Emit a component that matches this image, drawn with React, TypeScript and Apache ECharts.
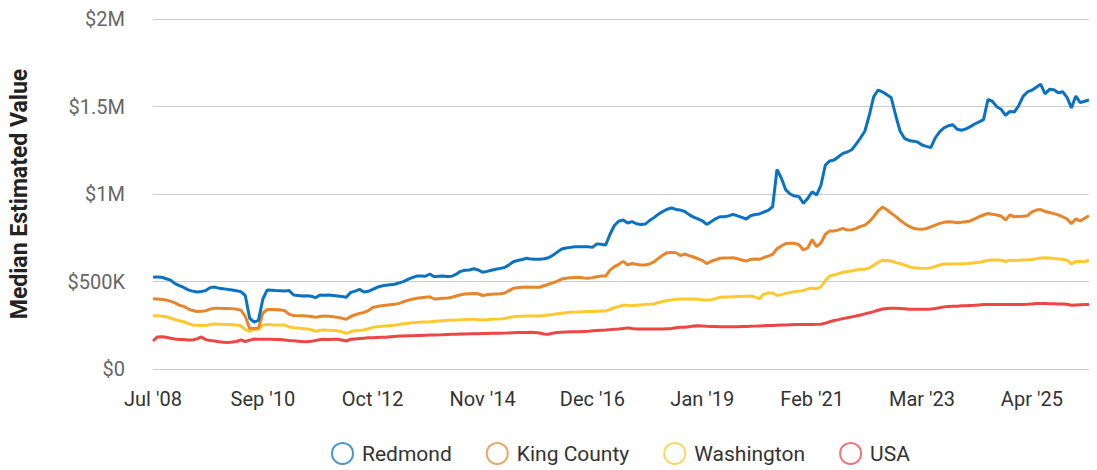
import React, { useEffect, useRef } from "react";
import * as echarts from "echarts";

const tickLabels = ["Jul '08", "Sep '10", "Oct '12", "Nov '14", "Dec '16", "Jan '19", "Feb '21", "Mar '23", "Apr '25"];
const seriesNames = ["Redmond", "King County", "Washington", "USA"];
const seriesColors = ["#0b72c1", "#e8852b", "#fdc92f", "#ee4545"];

// values in thousands of dollars
const redmond = [
  525, 526, 524, 516, 508, 488, 476, 466, 452, 445, 440, 443, 448, 465, 468, 462, 458, 455, 451, 447,
  442, 420, 290, 268, 278, 400, 452, 450, 448, 447, 446, 448, 423, 420, 417, 418, 416, 408, 423, 422,
  423, 420, 417, 414, 410, 438, 445, 455, 440, 444, 455, 467, 474, 478, 482, 484, 492, 499, 512, 522,
  531, 531, 530, 543, 527, 530, 531, 528, 530, 542, 558, 564, 566, 573, 566, 553, 558, 564, 570, 575,
  580, 595, 613, 620, 626, 633, 628, 627, 627, 630, 636, 650, 668, 686, 691, 695, 698, 699, 699, 698,
  695, 715, 713, 708, 770, 820, 845, 851, 834, 842, 830, 826, 828, 848, 865, 884, 900, 913, 920, 912,
  908, 900, 882, 868, 858, 847, 826, 842, 858, 870, 870, 875, 884, 875, 866, 857, 876, 883, 886, 897,
  906, 927, 1140, 1090, 1023, 1000, 988, 985, 947, 975, 1013, 994, 1050, 1165, 1189, 1194, 1213, 1232, 1240, 1253,
  1285, 1320, 1360, 1450, 1555, 1594, 1583, 1568, 1550, 1450, 1360, 1318, 1306, 1302, 1297, 1280, 1272, 1265, 1320, 1355,
  1378, 1390, 1396, 1370, 1364, 1372, 1385, 1400, 1412, 1425, 1540, 1530, 1499, 1484, 1450, 1472, 1468, 1505, 1558, 1583,
  1593, 1610, 1628, 1572, 1598, 1596, 1579, 1584, 1552, 1492, 1560, 1522, 1530, 1537,
];
const kingCounty = [
  402, 400, 397, 394, 388, 378, 364, 358, 344, 334, 329, 330, 333, 342, 347, 347, 346, 346, 345, 342,
  336, 300, 232, 232, 234, 320, 340, 340, 338, 338, 333, 312, 306, 305, 304, 303, 300, 296, 300, 303,
  301, 298, 295, 290, 284, 300, 310, 318, 323, 333, 351, 357, 361, 364, 367, 370, 375, 384, 392, 399,
  404, 407, 410, 413, 400, 402, 404, 405, 410, 417, 424, 428, 430, 432, 430, 420, 424, 427, 429, 430,
  434, 448, 461, 464, 467, 469, 467, 467, 467, 476, 484, 492, 502, 514, 519, 522, 523, 524, 520, 519,
  522, 527, 531, 531, 565, 585, 598, 615, 595, 603, 598, 594, 594, 600, 612, 632, 651, 665, 666, 665,
  648, 657, 648, 640, 630, 621, 602, 616, 624, 633, 634, 635, 636, 630, 623, 617, 626, 629, 627, 637,
  645, 655, 687, 703, 717, 719, 718, 710, 680, 692, 740, 699, 720, 770, 789, 789, 795, 804, 794, 795,
  803, 815, 822, 842, 870, 904, 925, 910, 890, 872, 850, 832, 816, 804, 800, 798, 803, 812, 822, 832,
  838, 842, 840, 836, 838, 842, 846, 858, 870, 880, 889, 884, 880, 874, 852, 880, 870, 872, 873, 876,
  898, 908, 911, 900, 894, 888, 881, 870, 857, 830, 858, 846, 862, 876,
];
const washington = [
  305, 305, 302, 299, 290, 283, 276, 270, 260, 252, 250, 249, 248, 254, 257, 256, 255, 254, 253, 251,
  247, 225, 215, 226, 227, 250, 255, 253, 252, 251, 251, 240, 236, 234, 231, 228, 225, 215, 221, 223,
  222, 220, 218, 212, 204, 214, 219, 221, 223, 230, 238, 242, 244, 246, 248, 250, 254, 258, 262, 265,
  266, 268, 269, 270, 272, 274, 276, 278, 279, 280, 281, 283, 284, 284, 282, 280, 282, 284, 285, 286,
  288, 294, 299, 301, 302, 303, 303, 303, 303, 306, 309, 312, 316, 319, 322, 324, 325, 326, 327, 328,
  329, 330, 331, 332, 340, 350, 358, 364, 364, 362, 364, 366, 368, 370, 372, 380, 386, 391, 395, 398,
  400, 400, 400, 400, 399, 395, 394, 396, 402, 410, 411, 412, 413, 414, 415, 416, 417, 412, 400, 428,
  434, 434, 420, 425, 432, 437, 442, 445, 448, 458, 463, 458, 470, 505, 532, 537, 545, 553, 557, 560,
  566, 570, 570, 578, 592, 610, 622, 620, 617, 608, 603, 595, 585, 579, 577, 575, 576, 579, 586, 594,
  600, 600, 600, 600, 601, 602, 604, 607, 610, 614, 622, 623, 623, 622, 614, 622, 620, 621, 623, 624,
  626, 630, 634, 636, 634, 631, 629, 627, 622, 600, 615, 615, 613, 622,
];
const usa = [
  160, 183, 184, 181, 176, 171, 169, 168, 166, 166, 172, 183, 168, 163, 160, 156, 153, 152, 154, 157,
  166, 157, 165, 171, 170, 170, 170, 170, 169, 168, 166, 163, 161, 159, 157, 156, 158, 163, 168, 170,
  168, 170, 170, 166, 160, 170, 172, 174, 176, 178, 179, 180, 181, 182, 184, 186, 188, 189, 190, 190,
  191, 192, 193, 194, 194, 195, 196, 197, 198, 199, 200, 200, 201, 202, 202, 203, 203, 204, 204, 204,
  205, 206, 207, 208, 208, 209, 210, 208, 206, 200, 199, 205, 208, 210, 212, 213, 213, 213, 214, 215,
  218, 220, 222, 223, 225, 227, 228, 231, 235, 231, 229, 229, 229, 229, 229, 229, 229, 230, 231, 236,
  239, 238, 242, 246, 247, 246, 244, 243, 243, 242, 242, 242, 242, 242, 243, 243, 244, 245, 246, 247,
  248, 249, 250, 251, 252, 253, 254, 255, 255, 254, 254, 255, 256, 262, 270, 277, 282, 288, 293, 298,
  303, 309, 315, 321, 328, 336, 343, 346, 347, 347, 346, 344, 342, 341, 341, 341, 342, 343, 346, 350,
  355, 357, 358, 359, 361, 362, 363, 364, 366, 368, 369, 369, 369, 369, 369, 369, 369, 369, 369, 370,
  372, 374, 375, 374, 373, 373, 372, 371, 370, 364, 366, 367, 368, 369,
];

const LABEL_STEP = 25;
const categories = redmond.map((_, i) => String(i));

function fmtY(v: number): string {
  if (v === 0) return "$0";
  if (v >= 1000) return "$" + v / 1000 + "M";
  return "$" + v + "K";
}

export default function App() {
  const ref = useRef<HTMLDivElement>(null);
  useEffect(() => {
    if (!ref.current) return;
    const chart = echarts.init(ref.current, undefined, { renderer: "svg" });
    const allData = [redmond, kingCounty, washington, usa];
    chart.setOption({
      animation: false,
      textStyle: { fontFamily: "Roboto" },
      grid: { left: 153, right: 8, top: 19, bottom: 101, containLabel: false },
      legend: {
        left: 326,
        top: 437,
        icon: "circle",
        itemWidth: 21,
        itemHeight: 21,
        itemGap: 34,
        textStyle: { fontSize: 21, color: "#333", fontFamily: "Roboto", padding: [0, 0, 0, 4] },
        data: seriesNames.map((n, k) => ({
          name: n,
          itemStyle: { color: "transparent", borderColor: seriesColors[k], borderWidth: 2, opacity: 0.75 },
        })),
      },
      xAxis: {
        type: "category",
        data: categories,
        boundaryGap: false,
        axisLine: { show: false },
        axisTick: { show: false },
        axisLabel: {
          interval: LABEL_STEP - 1,
          margin: 20,
          fontSize: 20,
          color: "#333",
          fontFamily: "Roboto",
          formatter: (_: string, idx: number) => tickLabels[Math.round(idx / LABEL_STEP)] ?? "",
        },
      },
      yAxis: {
        type: "value",
        min: 0,
        max: 2000,
        interval: 500,
        name: "Median Estimated Value",
        nameLocation: "middle",
        nameGap: 122,
        nameTextStyle: { fontSize: 23, fontWeight: "bold", color: "#222", fontFamily: "Roboto" },
        axisLine: { show: false },
        axisTick: { show: false },
        splitLine: { lineStyle: { color: "#cccccc", width: 1 } },
        axisLabel: { fontSize: 20, color: "#666", margin: 28, formatter: fmtY, fontFamily: "Roboto" },
      },
      series: seriesNames.map((n, k) => ({
        name: n,
        type: "line",
        data: allData[k],
        showSymbol: false,
        symbol: "none",
        z: 10 - k,
        lineStyle: { color: seriesColors[k], width: 3 },
        itemStyle: { color: seriesColors[k] },
      })),
    });
    return () => chart.dispose();
  }, []);
  return (
    <div
      ref={ref}
      style={{ position: "fixed", left: 0, top: 0, width: 1097, height: 470, background: "#fff" }}
    />
  );
}
